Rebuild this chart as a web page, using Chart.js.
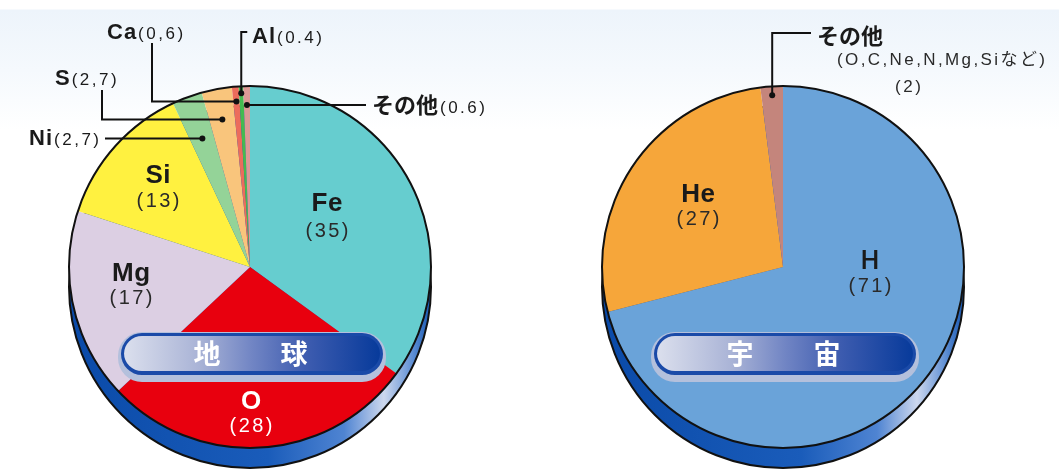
<!DOCTYPE html>
<html><head><meta charset="utf-8">
<script src="https://cdn.jsdelivr.net/npm/chart.js@4/dist/chart.umd.min.js"></script>
<style>
html,body{margin:0;padding:0;width:1059px;height:470px;overflow:hidden;
background:linear-gradient(to bottom,#ffffff 0,#ffffff 9px,#edf4fb 10px,#f5f9fd 70px,#ffffff 130px);}
#w1{position:absolute;left:0;top:0;width:530px;height:470px}
#w2{position:absolute;left:530px;top:0;width:529px;height:470px}
</style></head><body>
<div id="w1"><canvas id="c1"></canvas></div>
<div id="w2"><canvas id="c2"></canvas></div>
<script>
// ---- data ----
const earthElements = ['Fe','O','Mg','Si','Ni','S','Ca','Al','その他'];
const earthValues = [35,28,17,13,2.7,2.7,0.6,0.4,0.6];
const earthValueLabels = ['(35)','(28)','(17)','(13)','(2,7)','(2,7)','(0,6)','(0.4)','(0.6)'];
const universeElements = ['H','He','その他'];
const universeValues = [71,27,2];
const universeValueLabels = ['(71)','(27)','(2)'];
const universeNote = '(O,C,Ne,N,Mg,Siなど)';
const earthTitle = ['地','球'];
const universeTitle = ['宇','宙'];

// ---- styles ----
const earthColors = ['#66cdcf','#e8000e','#dccfe3','#fff140','#94d398','#f9c57c','#ec6c5c','#44bb50','#dc9a96'];
const universeColors = ['#6aa3d9','#f6a63a','#c4857c'];
const NAME_FONT = 'bold 26px "Liberation Sans", Arial, sans-serif';
const NUM_FONT = '20px "Liberation Sans", Arial, sans-serif';
const CNAME_FONT = 'bold 22px "Liberation Sans", Arial, sans-serif';
const CJK_FONT = 'bold 22px "Noto Sans CJK JP", sans-serif';
const CNUM_FONT = '17px "Liberation Sans", "Noto Sans CJK JP", sans-serif';
const TITLE_FONT = 'bold 27px "Noto Sans CJK JP", sans-serif';

// in-pie label layout (offsets from pie centre: name middle, number middle)
const earthInner = {0:[77,-65,-37,'#1a1a1a'],1:[1,133,158,'#ffffff'],2:[-119,5,30,'#1a1a1a'],3:[-92,-93,-67,'#1a1a1a']};
const universeInner = {0:[87,-7,18,'#1a1a1a'],1:[-85,-74,-49,'#1a1a1a']};

// callouts: slice index, dot radius, path, label placement (canvas-local coords)
const earthCallouts = [
  {i:4, r:137, path:d=>[[d.x,d.y],[105,d.y]], lx:99, ly:137, align:'right'},
  {i:5, r:150, path:d=>[[d.x,d.y],[102,d.y],[102,90]], lx:55, ly:77, align:'left'},
  {i:6, r:166, path:d=>[[d.x,d.y],[152,d.y],[152,43]], lx:107, ly:31, align:'left'},
  {i:7, r:174, path:d=>[[d.x,d.y],[d.x,32],[d.x+6,32]], lx:252, ly:35, align:'left'},
  {i:8, r:162, path:d=>[[d.x,d.y],[366,d.y]], lx:372, ly:105, align:'left'}
];
const universeCallouts = [
  {i:2, r:172, path:d=>[[d.x,d.y],[d.x,33],[281,33]], lx:287, ly:36, align:'left', note:true}
];

function rr(ctx,x,y,w,h,r){ctx.beginPath();ctx.moveTo(x+r,y);ctx.arcTo(x+w,y,x+w,y+h,r);ctx.arcTo(x+w,y+h,x,y+h,r);ctx.arcTo(x,y+h,x,y,r);ctx.arcTo(x,y,x+w,y,r);ctx.closePath();}
function spaced(ctx,s,x,y,sp,draw){let w=0;for(const ch of s){if(draw)ctx.fillText(ch,x+w,y);w+=ctx.measureText(ch).width+sp;}return w-sp;}
function isCJK(s){return /[\u3000-\u9fff]/.test(s);}

function drawNameNum(ctx,name,num,x,midY,align,nameFont,numFont,nameSize,numSize,color,sp){
  ctx.fillStyle=color;ctx.textBaseline='alphabetic';ctx.textAlign='left';
  ctx.font=nameFont;const nw=spaced(ctx,name,0,0,isCJK(name)?0:1,false);
  ctx.font=numFont;const uw=spaced(ctx,num,0,0,sp,false);
  const gap=2;const tot=nw+gap+uw;
  let x0=align==='right'?x-tot:(align==='center'?x-tot/2:x);
  const base=midY+nameSize*0.36;
  ctx.font=nameFont;spaced(ctx,name,x0,base,isCJK(name)?0:1,true);
  ctx.font=numFont;spaced(ctx,num,x0+nw+gap,base,sp,true);
}
function centered(ctx,s,cx,midY,font,size,sp,color){
  ctx.font=font;ctx.fillStyle=color;ctx.textAlign='left';ctx.textBaseline='alphabetic';
  const w=spaced(ctx,s,0,0,sp,false);spaced(ctx,s,cx-w/2,midY+size*0.36,sp,true);
}

function makeDeco(cfg){
  return {
    id:'deco',
    beforeDatasetsDraw(chart){
      const a=chart.getDatasetMeta(0).data[0];const ctx=chart.ctx;
      const cx=a.x,cy=a.y,R=a.outerRadius;
      ctx.save();
      const g=ctx.createLinearGradient(cx-R,0,cx+R,0);
      g.addColorStop(0,'#0a4aa8');g.addColorStop(0.55,'#1a5cba');g.addColorStop(0.76,'#4f84d2');
      g.addColorStop(0.87,'#cdd8ee');g.addColorStop(0.95,'#5d8ed4');g.addColorStop(1,'#1656b0');
      ctx.beginPath();ctx.arc(cx,cy+20,R,0,Math.PI*2);ctx.fillStyle=g;ctx.fill();
      ctx.lineWidth=2;ctx.strokeStyle='#111';ctx.stroke();
      ctx.restore();
    },
    afterDatasetsDraw(chart){
      const meta=chart.getDatasetMeta(0);const ctx=chart.ctx;
      const a0=meta.data[0];const cx=a0.x,cy=a0.y,R=a0.outerRadius;
      ctx.save();
      ctx.beginPath();ctx.arc(cx,cy,R,0,Math.PI*2);ctx.lineWidth=2;ctx.strokeStyle='#111';ctx.stroke();
      // title pill
      const px=cx-129,py=cy+66,pw=262,ph=42;
      rr(ctx,px-3,py-1,pw+6,ph+8,24);ctx.fillStyle='#b4c0dc';ctx.fill();
      rr(ctx,px,py,pw,ph,21);ctx.fillStyle='#1a4aa8';ctx.fill();
      const pg=ctx.createLinearGradient(px,0,px+pw,0);
      pg.addColorStop(0,'#dde1ee');pg.addColorStop(0.3,'#a9b3d6');pg.addColorStop(0.5,'#7185c4');
      pg.addColorStop(0.7,'#3f5db0');pg.addColorStop(1,'#05399a');
      rr(ctx,px+3,py+3,pw-6,ph-7,18);ctx.fillStyle=pg;ctx.fill();
      ctx.font=TITLE_FONT;ctx.fillStyle='#ffffff';ctx.textAlign='center';ctx.textBaseline='middle';
      ctx.fillText(cfg.title[0],cx-43,cy+87);ctx.fillText(cfg.title[1],cx+44,cy+87);
      // in-pie labels
      for(const k in cfg.inner){
        const [dx,dy,ny,col]=cfg.inner[k];
        centered(ctx,cfg.names[k],cx+dx,cy+dy,cfg.names[k]==='H'?'500 26px Roboto, sans-serif':NAME_FONT,25,0.5,col);
        centered(ctx,cfg.nums[k],cx+dx,cy+ny,NUM_FONT,20,2.5,col==='#ffffff'?'#ffffff':'#2a2a2a');
      }
      // callouts
      for(const c of cfg.callouts){
        const arc=meta.data[c.i];const m=(arc.startAngle+arc.endAngle)/2;
        const d={x:cx+c.r*Math.cos(m),y:cy+c.r*Math.sin(m)};
        const pts=c.path(d);
        ctx.beginPath();ctx.moveTo(pts[0][0],pts[0][1]);
        for(let j=1;j<pts.length;j++)ctx.lineTo(pts[j][0],pts[j][1]);
        ctx.strokeStyle='#111';ctx.lineWidth=2;ctx.stroke();
        ctx.beginPath();ctx.arc(d.x,d.y,3,0,Math.PI*2);ctx.fillStyle='#111';ctx.fill();
        const nm=cfg.names[c.i];
        if(c.note){
          ctx.font=CJK_FONT;ctx.fillStyle='#1a1a1a';ctx.textAlign='left';ctx.textBaseline='alphabetic';
          ctx.fillText(nm,c.lx,c.ly+8);
          ctx.font=CNUM_FONT;ctx.fillStyle='#2a2a2a';spaced(ctx,cfg.note,307,65,2.4,true);
          centered(ctx,cfg.nums[c.i],378,86,CNUM_FONT,17,2.5,'#2a2a2a');
        } else {
          drawNameNum(ctx,nm,cfg.nums[c.i],c.lx,c.ly,c.align,isCJK(nm)?CJK_FONT:CNAME_FONT,CNUM_FONT,22,17,'#1a1a1a',2.5);
        }
      }
      ctx.restore();
    }
  };
}

function makePie(id,labels,values,colors,pad,cfg){
  return new Chart(document.getElementById(id),{
    type:'pie',
    data:{labels:labels,datasets:[{data:values,backgroundColor:colors,borderWidth:0,hoverOffset:0}]},
    options:{responsive:true,maintainAspectRatio:false,animation:false,events:[],
      layout:{padding:pad},
      plugins:{legend:{display:false},tooltip:{enabled:false}}},
    plugins:[makeDeco(cfg)]
  });
}
makePie('c1',earthElements,earthValues,earthColors,{left:69,right:99,top:86,bottom:22},
  {title:earthTitle,names:earthElements,nums:earthValueLabels,inner:earthInner,callouts:earthCallouts});
makePie('c2',universeElements,universeValues,universeColors,{left:72,right:95,top:86,bottom:22},
  {title:universeTitle,names:universeElements,nums:universeValueLabels,inner:universeInner,callouts:universeCallouts,note:universeNote});
</script>
</body></html>
